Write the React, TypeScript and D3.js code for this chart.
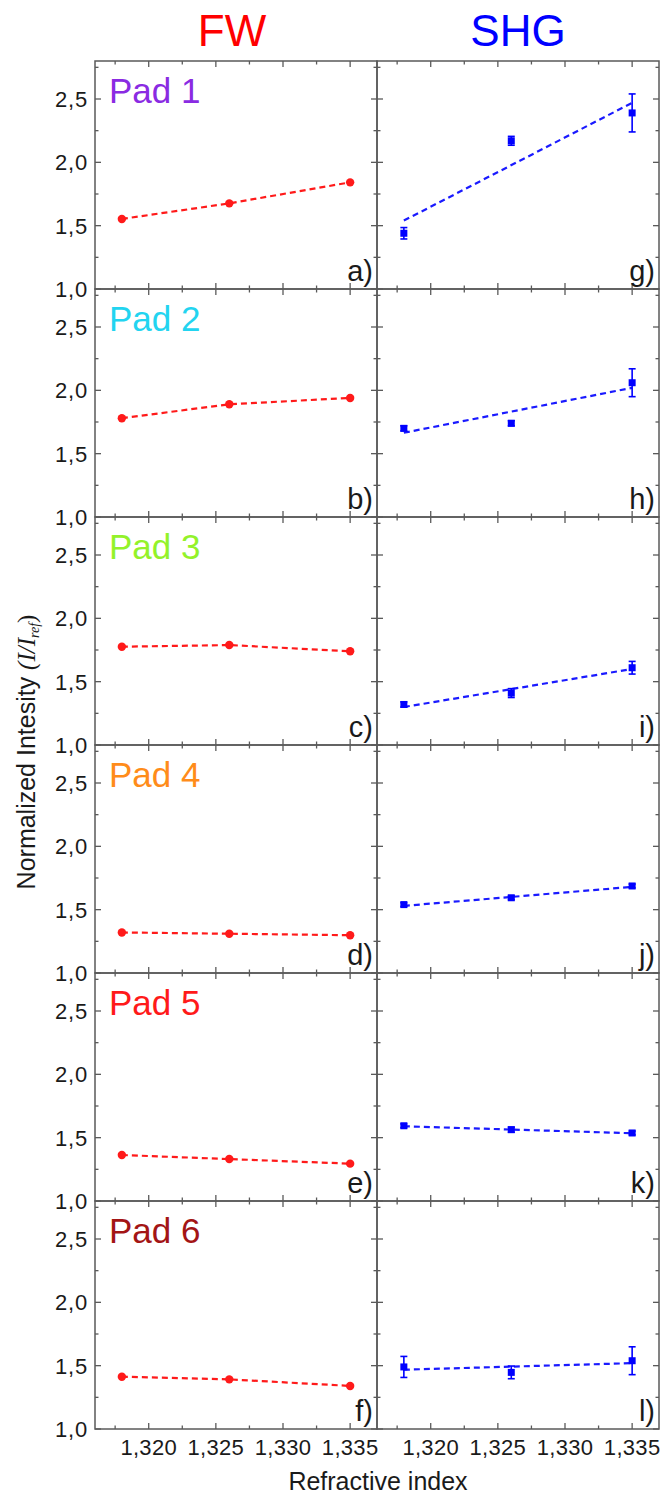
import React from 'react';
import * as d3 from 'd3';

// refractive index of the three solutions
const refIndex = [1.318, 1.326, 1.335];

const padNames = ['Pad 1', 'Pad 2', 'Pad 3', 'Pad 4', 'Pad 5', 'Pad 6'];
const padColors = ['#8a2be2', '#22d4f0', '#93f22a', '#ff8c1a', '#ff1a1a', '#a31515'];
const fwLetters = ['a)', 'b)', 'c)', 'd)', 'e)', 'f)'];
const shgLetters = ['g)', 'h)', 'i)', 'j)', 'k)', 'l)'];

// FW normalized intensity per pad
const fwPad1 = [1.553, 1.676, 1.842];
const fwPad2 = [1.78, 1.89, 1.94];
const fwPad3 = [1.776, 1.789, 1.74];
const fwPad4 = [1.32, 1.31, 1.298];
const fwPad5 = [1.363, 1.331, 1.295];
const fwPad6 = [1.413, 1.392, 1.34];

// SHG normalized intensity per pad
const shgPad1 = [1.44, 2.17, 2.39];
const shgPad2 = [1.7, 1.74, 2.06];
const shgPad3 = [1.32, 1.41, 1.61];
const shgPad4 = [1.54, 1.594, 1.687];
const shgPad5 = [1.594, 1.563, 1.537];
const shgPad6 = [1.49, 1.447, 1.539];

// SHG error bars
const shgErr1 = [0.045, 0.035, 0.15];
const shgErr2 = [0.02, 0.02, 0.11];
const shgErr3 = [0.02, 0.035, 0.05];
const shgErr4 = [0.015, 0.015, 0.015];
const shgErr5 = [0.015, 0.02, 0.015];
const shgErr6 = [0.083, 0.05, 0.11];

// SHG linear fit, value at first and last refractive index
const shgFit1 = [1.54, 2.47];
const shgFit2 = [1.665, 2.02];
const shgFit3 = [1.3, 1.6];
const shgFit4 = [1.53, 1.68];
const shgFit5 = [1.59, 1.535];
const shgFit6 = [1.468, 1.52];

const fwValues = [fwPad1, fwPad2, fwPad3, fwPad4, fwPad5, fwPad6];
const shgValues = [shgPad1, shgPad2, shgPad3, shgPad4, shgPad5, shgPad6];
const shgErrors = [shgErr1, shgErr2, shgErr3, shgErr4, shgErr5, shgErr6];
const shgFits = [shgFit1, shgFit2, shgFit3, shgFit4, shgFit5, shgFit6];

const xMajor = [1.32, 1.325, 1.33, 1.335];
const xMinor = [1.3175, 1.3225, 1.3275, 1.3325];
const xTickLabels = ['1,320', '1,325', '1,330', '1,335'];
const yMajor = [1.0, 1.5, 2.0, 2.5];
const yMinor = [1.25, 1.75, 2.25, 2.75];
const yTickLabels = ['1,0', '1,5', '2,0', '2,5'];

const font = "'Liberation Sans', Arial, sans-serif";
const serif = "'Liberation Serif', 'Times New Roman', serif";
const frameColor = '#5a5a5a';
const textColor = '#1a1a1a';

const W = 667;
const H = 1497;
const colLeft = [95, 377];
const panelW = 282;
const top0 = 61;
const panelH = 228;

const x = d3.scaleLinear().domain([1.316, 1.337]).range([0, panelW]);
const y = d3.scaleLinear().domain([1.0, 2.8]).range([panelH, 0]);

const line = d3.line<number[]>().x(d => x(d[0])).y(d => y(d[1]));

function Frame() {
  return (
    <g stroke={frameColor} strokeWidth={1.3}>
      <rect x={0} y={0} width={panelW} height={panelH} fill="none" strokeWidth={1.5} />
      {xMajor.map(v => (
        <g key={'xM' + v}>
          <line x1={x(v)} x2={x(v)} y1={panelH} y2={panelH - 6} />
          <line x1={x(v)} x2={x(v)} y1={0} y2={6} />
        </g>
      ))}
      {xMinor.map(v => (
        <g key={'xm' + v}>
          <line x1={x(v)} x2={x(v)} y1={panelH} y2={panelH - 3.5} />
          <line x1={x(v)} x2={x(v)} y1={0} y2={3.5} />
        </g>
      ))}
      {yMajor.map(v => (
        <g key={'yM' + v}>
          <line x1={0} x2={6} y1={y(v)} y2={y(v)} />
          <line x1={panelW} x2={panelW - 6} y1={y(v)} y2={y(v)} />
        </g>
      ))}
      {yMinor.map(v => (
        <g key={'ym' + v}>
          <line x1={0} x2={3.5} y1={y(v)} y2={y(v)} />
          <line x1={panelW} x2={panelW - 3.5} y1={y(v)} y2={y(v)} />
        </g>
      ))}
    </g>
  );
}

function FwPanel({ row }: { row: number }) {
  const pts = refIndex.map((r, i) => [r, fwValues[row][i]]);
  return (
    <g transform={`translate(${colLeft[0]},${top0 + row * panelH})`}>
      <Frame />
      <text x={14} y={42} fontSize={35} fill={padColors[row]} fontFamily={font}>{padNames[row]}</text>
      <text x={panelW - 4} y={panelH - 8} fontSize={29} textAnchor="end" fill={textColor} fontFamily={font}>{fwLetters[row]}</text>
      <path d={line(pts) || ''} fill="none" stroke="#ff1a1a" strokeWidth={2.2} strokeDasharray="6,4" />
      {pts.map((p, i) => (
        <circle key={i} cx={x(p[0])} cy={y(p[1])} r={4.2} fill="#ff1a1a" />
      ))}
    </g>
  );
}

function ShgPanel({ row }: { row: number }) {
  const vals = shgValues[row];
  const errs = shgErrors[row];
  const fit = shgFits[row];
  const fitPts = [[refIndex[0], fit[0]], [refIndex[refIndex.length - 1], fit[1]]];
  return (
    <g transform={`translate(${colLeft[1]},${top0 + row * panelH})`}>
      <Frame />
      <text x={panelW - 4} y={panelH - 8} fontSize={29} textAnchor="end" fill={textColor} fontFamily={font}>{shgLetters[row]}</text>
      <path d={line(fitPts) || ''} fill="none" stroke="#1a1aff" strokeWidth={2.2} strokeDasharray="6,4" />
      {refIndex.map((r, i) => {
        const cx = x(r);
        const yt = y(vals[i] + errs[i]);
        const yb = y(vals[i] - errs[i]);
        return (
          <g key={i} stroke="#0000ff" strokeWidth={1.6}>
            <line x1={cx} x2={cx} y1={yt} y2={yb} />
            <line x1={cx - 3.5} x2={cx + 3.5} y1={yt} y2={yt} />
            <line x1={cx - 3.5} x2={cx + 3.5} y1={yb} y2={yb} />
            <rect x={cx - 3.5} y={y(vals[i]) - 3.5} width={7} height={7} fill="#0000ff" stroke="none" />
          </g>
        );
      })}
    </g>
  );
}

export default function App() {
  const rows = d3.range(6);
  const bottom = top0 + 6 * panelH;
  return (
    <svg width={W} height={H} style={{ position: 'absolute', left: 0, top: 0, background: 'white' }}>
      <text x={colLeft[0] + panelW / 2 - 4} y={46} fontSize={44} textAnchor="middle" fill="#ff0000" fontFamily={font}>FW</text>
      <text x={colLeft[1] + panelW / 2} y={46} fontSize={44} textAnchor="middle" fill="#0000ff" fontFamily={font}>SHG</text>

      {rows.map(r => <FwPanel key={'fw' + r} row={r} />)}
      {rows.map(r => <ShgPanel key={'shg' + r} row={r} />)}

      {/* y tick labels, left column only */}
      {rows.map(r => (
        <g key={'yl' + r} transform={`translate(${colLeft[0]},${top0 + r * panelH})`}>
          {yMajor.map((v, i) => (
            <text key={v} x={-7} y={y(v)} dy="0.36em" fontSize={22} textAnchor="end" fill={textColor} fontFamily={font} letterSpacing={0.8}>
              {yTickLabels[i]}
            </text>
          ))}
        </g>
      ))}

      {/* x tick labels at the bottom of both columns */}
      {colLeft.map(cx => (
        <g key={'xl' + cx} transform={`translate(${cx},${bottom})`}>
          {xMajor.map((v, i) => (
            <text key={v} x={x(v)} y={26} fontSize={22} textAnchor="middle" fill={textColor} fontFamily={font} letterSpacing={0.3}>
              {xTickLabels[i]}
            </text>
          ))}
        </g>
      ))}

      <text x={378} y={1490} fontSize={25} textAnchor="middle" fill={textColor} fontFamily={font}>Refractive index</text>

      <text transform="translate(35,752) rotate(-90)" fontSize={25} textAnchor="middle" fill={textColor} fontFamily={font}>
        Normalized Intesity{' '}
        <tspan fontFamily={serif} fontStyle="italic">(I/I</tspan>
        <tspan fontFamily={serif} fontStyle="italic" fontSize={14} dy={4}>ref</tspan>
        <tspan fontFamily={serif} dy={-4}>)</tspan>
      </text>
    </svg>
  );
}
